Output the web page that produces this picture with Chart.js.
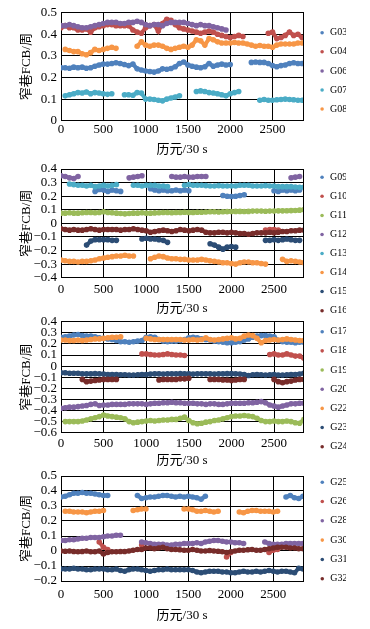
<!DOCTYPE html>
<html><head><meta charset="utf-8">
<script src="https://cdn.jsdelivr.net/npm/chart.js@4.4.1/dist/chart.umd.min.js"></script>
<style>
html,body{margin:0;padding:0;background:#fff;width:370px;height:629px;overflow:hidden;position:relative}
canvas{position:absolute;left:0}
</style></head><body>
<canvas id="c1"></canvas><canvas id="c2"></canvas><canvas id="c3"></canvas><canvas id="c4"></canvas>
<script>
const _ = null;
const epochs = [0,50,100,150,200,250,300,350,400,450,500,550,600,650,700,750,800,850,900,950,1000,1050,1100,1150,1200,1250,1300,1350,1400,1450,1500,1550,1600,1650,1700,1750,1800,1850,1900,1950,2000,2050,2100,2150,2200,2250,2300,2350,2400,2450,2500,2550,2600,2650,2700,2750,2800,2850];
const xTicks = [0,500,1000,1500,2000,2500];
const yTicks1 = [0,0.1,0.2,0.3,0.4,0.5];
const yTicks2 = [-0.4,-0.3,-0.2,-0.1,0,0.1,0.2,0.3,0.4];
const yTicks3 = [-0.6,-0.5,-0.4,-0.3,-0.2,-0.1,0,0.1,0.2,0.3,0.4];
const yTicks4 = [-0.2,-0.1,0,0.1,0.2,0.3,0.4,0.5];
const xTitle = '历元/30 s';
const yTitle = '窄巷FCB/周';

// Panel 1
const names1 = ['G03','G04','G06','G07','G08'];
const G03 = [0.245,0.245,0.243,0.248,0.245,0.248,0.243,0.245,0.252,0.258,
 0.262,0.262,0.265,0.268,0.265,0.26,0.255,0.262,0.24,0.235,
 0.23,0.228,0.225,0.23,0.24,0.238,0.242,0.25,0.265,0.272,
 0.258,0.252,0.248,0.245,0.25,0.265,0.252,0.258,0.262,0.258,
 0.26,_,_,_,_,0.27,0.272,0.27,0.27,0.265,
 0.255,0.25,0.255,0.258,0.265,0.268,0.265,0.265];
const G04 = [0.43,0.44,0.43,0.43,0.42,0.42,0.425,0.41,0.43,0.435,
 0.44,0.445,0.445,0.44,0.44,0.44,0.44,0.42,0.41,0.405,
 0.43,0.44,0.445,0.415,0.45,0.47,0.465,0.445,0.43,0.425,
 0.42,0.415,0.41,0.405,0.41,0.415,0.41,0.40,0.395,0.39,
 0.385,0.39,0.395,0.39,_,_,_,_,_,0.405,
 0.41,0.38,0.385,0.395,0.41,0.395,0.40,0.385];
const G06 = [0.44,0.44,0.445,0.44,0.435,0.43,0.43,0.435,0.44,0.445,
 0.45,0.455,0.455,0.455,0.45,0.45,0.455,0.455,0.46,0.455,
 0.445,0.44,0.445,0.445,0.44,0.45,0.455,0.455,0.455,0.455,
 0.45,0.445,0.44,0.445,0.44,0.44,0.435,0.43,0.425,0.42,
 _,_,_,_,_,_,_,_,_,_,
 _,_,_,_,_,_,_,_];
const G07 = [_,0.115,0.12,0.125,0.13,0.128,0.133,0.125,0.13,0.128,
 0.125,0.122,0.125,_,_,0.12,0.12,0.118,0.13,0.128,
 0.10,0.10,0.098,0.095,0.092,0.10,0.105,0.11,0.115,_,
 _,_,0.135,0.138,0.135,0.13,0.128,0.125,0.12,0.115,
 0.125,0.13,0.135,_,_,_,_,0.095,0.098,0.095,
 0.095,0.097,0.098,0.1,0.098,0.097,0.095,0.095];
const G08 = [_,0.33,0.325,0.32,0.32,0.31,0.305,0.315,0.33,0.325,
 0.33,0.335,0.34,0.335,_,_,_,_,0.345,0.365,
 0.35,0.345,0.35,0.35,0.345,0.335,0.33,0.335,0.34,0.345,
 0.34,0.35,0.375,0.37,0.35,0.38,0.375,0.365,0.36,0.36,
 0.36,0.362,0.36,0.36,0.355,0.35,0.345,0.348,0.345,0.345,
 0.34,0.35,0.355,0.355,0.355,0.355,0.36,0.36];

// Panel 2
const names2 = ['G09','G10','G11','G12','G13','G14','G15','G16'];
const G09 = [_,_,_,_,_,_,_,_,0.235,0.25,
 0.245,0.235,0.245,0.24,0.235,_,_,_,_,_,
 _,0.255,0.245,0.24,0.245,0.24,0.24,0.245,0.24,0.245,
 0.24,_,_,_,_,_,_,_,0.205,0.2,
 0.198,0.2,0.205,0.21,_,_,_,_,_,_,
 0.24,0.235,0.245,0.24,0.245,0.24,0.245,_];
const G10 = [_,_,_,_,_,_,_,_,_,_,
 _,_,_,_,_,_,_,_,_,_,
 _,_,_,_,_,_,_,_,_,_,
 _,_,_,_,_,_,_,_,_,_,
 _,_,_,_,_,_,_,_,-0.05,-0.045,
 -0.045,-0.05,_,_,_,_,_,_];
const G11 = [0.075,0.075,0.078,0.075,0.075,0.078,0.08,0.08,0.078,0.08,
 0.085,0.08,0.078,0.075,0.072,0.07,0.072,0.075,0.075,0.078,
 0.075,0.075,0.077,0.078,0.08,0.08,0.078,0.08,0.08,0.082,
 0.08,0.08,0.082,0.082,0.083,0.085,0.085,0.084,0.085,0.086,
 0.087,0.088,0.088,0.087,0.088,0.09,0.09,0.09,0.089,0.09,
 0.09,0.092,0.092,0.093,0.094,0.095,0.097,0.1];
const G12 = [0.35,0.345,0.335,0.33,0.345,_,_,_,_,_,
 _,_,_,_,_,_,0.335,0.34,0.345,0.35,
 _,_,_,_,_,_,0.345,0.34,0.34,0.345,
 0.34,0.34,0.345,0.345,0.345,_,_,_,_,_,
 _,_,_,_,_,_,_,_,_,_,
 _,_,_,_,0.335,0.34,0.345,_];
const G13 = [_,_,0.29,0.285,0.28,0.28,0.275,0.28,0.27,0.275,
 0.28,0.275,0.28,0.285,_,_,_,0.28,0.28,0.275,
 0.28,0.28,0.28,0.275,0.275,0.27,_,_,_,0.28,
 0.285,0.28,0.28,0.28,0.278,0.275,0.275,0.278,0.275,0.275,
 0.275,0.275,0.28,0.28,0.28,0.275,0.275,0.275,0.278,0.275,
 0.275,0.27,0.27,0.27,0.27,0.268,0.265,0.265];
const G14 = [-0.27,-0.275,-0.28,-0.28,-0.285,-0.28,-0.28,-0.275,-0.27,-0.26,
 -0.255,-0.25,-0.245,-0.24,-0.24,-0.235,-0.24,-0.24,_,_,
 _,-0.26,-0.25,-0.24,-0.245,-0.255,-0.26,-0.26,-0.265,-0.265,
 -0.27,-0.27,-0.27,-0.265,-0.27,-0.275,-0.28,-0.285,-0.29,-0.29,
 -0.295,-0.3,-0.29,-0.285,-0.285,-0.29,-0.29,-0.295,-0.3,_,
 _,_,-0.265,-0.28,-0.275,-0.28,-0.285,-0.29];
const G15 = [_,_,_,_,_,_,-0.16,-0.13,-0.12,-0.12,
 -0.12,-0.12,-0.125,-0.125,_,_,_,_,_,-0.115,
 -0.11,-0.115,-0.115,-0.12,-0.125,-0.14,_,_,_,_,
 _,_,_,_,_,-0.15,-0.16,-0.175,-0.19,-0.175,
 -0.17,-0.175,_,_,_,_,_,_,-0.125,-0.125,
 -0.12,-0.125,-0.12,-0.115,-0.12,-0.125,-0.125,_];
const G16 = [-0.04,-0.045,-0.05,-0.045,-0.05,-0.05,-0.045,-0.04,-0.045,-0.05,
 -0.045,-0.045,-0.045,-0.045,-0.05,-0.045,-0.045,-0.04,-0.045,-0.05,
 -0.055,-0.065,-0.06,-0.055,-0.05,-0.055,-0.06,-0.055,-0.045,-0.05,
 -0.055,-0.05,-0.045,-0.05,-0.065,-0.07,-0.07,-0.065,-0.065,-0.07,
 -0.065,-0.07,-0.075,-0.075,-0.08,-0.075,-0.07,-0.07,-0.07,-0.065,
 -0.07,-0.065,-0.06,-0.06,-0.055,-0.055,-0.05,-0.05];

// Panel 3
const names3 = ['G17','G18','G19','G20','G22','G23','G24'];
const G17 = [0.26,0.265,0.27,0.28,0.285,0.275,0.27,0.27,0.265,0.255,
 0.25,0.245,0.24,0.23,0.22,0.22,0.215,0.22,0.225,0.23,
 0.26,0.265,0.26,0.24,0.225,0.22,0.225,0.225,0.23,0.24,
 0.255,0.26,0.255,0.245,0.24,0.235,0.225,0.22,0.215,0.21,
 0.21,0.215,0.22,0.235,0.245,0.26,0.27,0.275,0.275,0.27,
 0.265,0.23,0.22,0.215,0.215,0.21,0.215,0.215];
const G18 = [_,_,_,_,_,_,_,_,_,_,
 _,_,_,_,_,_,_,_,_,0.11,
 0.11,0.105,0.1,0.1,0.105,0.11,0.105,0.1,0.1,0.095,
 _,_,_,_,_,_,_,_,_,_,
 _,_,_,_,_,_,_,_,_,0.105,
 0.11,0.1,0.1,0.11,0.1,0.09,0.09,0.07];
const G19 = [_,-0.5,-0.5,-0.5,-0.5,-0.495,-0.485,-0.475,-0.465,-0.455,
 -0.44,-0.45,-0.455,-0.46,-0.465,-0.475,-0.5,-0.51,-0.505,-0.5,
 -0.495,-0.49,-0.495,-0.49,-0.485,-0.485,-0.48,-0.48,-0.47,-0.46,
 -0.49,-0.51,-0.52,-0.515,-0.505,-0.5,-0.49,-0.485,-0.475,-0.465,
 -0.455,-0.45,-0.45,-0.445,-0.45,-0.455,-0.47,-0.49,-0.5,-0.5,
 -0.495,-0.5,-0.5,-0.495,-0.5,-0.51,-0.515,-0.48];
const G20 = [-0.38,-0.375,-0.37,-0.37,-0.365,-0.36,-0.355,-0.345,-0.34,-0.355,
 -0.35,-0.35,-0.345,-0.345,-0.345,-0.345,-0.34,-0.34,-0.34,-0.34,
 -0.345,-0.34,-0.335,-0.335,-0.33,-0.33,-0.325,-0.33,-0.33,-0.335,
 -0.335,-0.335,-0.34,-0.34,-0.345,-0.34,-0.34,-0.345,-0.345,-0.34,
 -0.335,-0.335,-0.335,-0.335,-0.33,-0.33,-0.325,-0.32,-0.33,-0.35,
 -0.36,-0.37,-0.36,-0.35,-0.34,-0.34,-0.335,-0.335];
const G22 = [0.235,0.235,0.23,0.23,0.235,0.23,0.235,0.24,0.245,0.245,
 0.25,0.255,0.26,0.26,0.265,_,_,_,_,_,
 0.25,0.245,0.24,0.24,0.24,0.24,0.24,0.24,0.24,0.235,
 0.235,0.24,0.235,0.24,0.255,0.24,0.235,0.24,0.245,0.25,
 0.255,0.245,0.25,0.27,0.28,0.275,0.25,0.21,0.23,0.235,
 0.24,0.235,0.24,0.245,0.24,0.235,0.23,0.23];
const G23 = [-0.06,-0.06,-0.065,-0.065,-0.065,-0.07,-0.07,-0.07,-0.068,-0.07,
 -0.072,-0.075,-0.075,-0.075,-0.078,-0.078,-0.08,-0.08,-0.078,-0.075,
 -0.075,-0.072,-0.07,-0.07,-0.072,-0.07,-0.07,-0.07,-0.068,-0.07,
 -0.07,-0.072,-0.07,-0.07,-0.07,-0.07,-0.072,-0.07,-0.07,-0.068,
 -0.068,-0.07,-0.072,-0.075,-0.085,-0.078,-0.075,-0.078,-0.08,-0.078,
 -0.075,-0.08,-0.08,-0.078,-0.075,-0.075,-0.072,-0.065];
const G24 = [_,_,_,_,_,-0.12,-0.14,-0.135,-0.13,-0.125,
 -0.12,-0.12,-0.12,-0.12,_,_,_,_,_,_,
 _,_,_,-0.125,-0.12,-0.12,-0.12,-0.12,-0.115,-0.115,
 -0.11,_,_,_,_,-0.12,-0.12,-0.12,-0.125,-0.125,
 -0.13,-0.125,-0.12,-0.12,_,_,_,_,_,_,
 -0.12,-0.14,-0.15,-0.14,-0.135,-0.125,-0.12,-0.12];

// Panel 4
const names4 = ['G25','G26','G28','G30','G31','G32'];
const G25 = [0.36,0.365,0.375,0.385,0.385,0.39,0.385,0.385,0.38,0.375,
 0.37,0.37,_,_,_,_,_,_,0.37,0.35,
 0.355,0.36,0.36,0.365,0.37,0.37,0.365,0.36,0.365,0.36,
 0.365,0.36,0.355,0.345,0.365,_,_,_,_,_,
 _,_,_,_,_,_,_,_,_,_,
 _,_,_,0.36,0.37,0.355,0.35,0.365];
const G26 = [_,_,_,_,_,_,_,_,_,0.06,
 0.025,0.01,_,_,_,_,_,_,_,0.04,
 _,_,_,_,_,_,_,_,_,_,
 _,_,_,_,_,_,_,_,_,-0.04,
 -0.01,_,_,_,_,_,_,_,_,-0.01,
 0.005,0.01,_,_,_,_,_,_];
const G28 = [0.07,0.07,0.075,0.075,0.08,0.085,0.085,0.09,0.09,0.09,
 0.095,0.1,0.1,0.105,0.105,_,_,_,_,0.06,
 0.055,0.05,0.045,0.045,0.045,0.04,0.04,0.045,0.045,0.05,
 0.05,0.05,0.055,0.05,0.06,0.065,0.07,0.07,0.065,0.06,
 0.06,0.055,0.055,0.05,_,_,_,_,0.06,0.05,
 0.045,0.045,0.045,0.05,0.05,0.05,0.05,0.05];
const G30 = [_,0.265,0.265,0.26,0.26,0.26,0.255,0.26,0.265,0.265,
 0.27,_,_,_,_,_,_,0.27,0.275,0.28,
 0.28,_,_,_,_,_,_,_,_,0.28,
 0.28,0.275,0.265,0.265,0.27,0.265,0.26,0.265,_,_,
 _,_,0.26,0.255,0.265,0.27,0.27,0.265,0.265,0.265,
 0.26,0.265,_,_,_,_,_,_];
const G31 = [-0.12,-0.12,-0.12,-0.115,-0.12,-0.12,-0.125,-0.125,-0.12,-0.12,
 -0.12,-0.125,-0.125,-0.12,-0.13,-0.135,-0.125,-0.12,-0.12,-0.125,
 -0.13,-0.135,-0.13,-0.125,-0.125,-0.12,-0.125,-0.125,-0.125,-0.125,
 -0.125,-0.13,-0.14,-0.145,-0.14,-0.135,-0.135,-0.135,-0.14,-0.14,
 -0.145,-0.145,-0.14,-0.135,-0.14,-0.14,-0.135,-0.14,-0.135,-0.13,
 -0.135,-0.14,-0.135,-0.135,-0.14,-0.145,-0.115,-0.12];
const G32 = [0,-0.002,0,-0.003,-0.005,-0.003,0,-0.005,-0.005,0,
 -0.02,-0.01,-0.005,-0.005,-0.003,-0.003,0,0.005,0.01,0.01,
 0.02,0.02,0.015,0.02,0.025,0.015,0.01,0.01,0.008,0.005,
 0.005,0.01,0.005,0,0,0.003,0,-0.002,-0.005,-0.01,
 -0.005,0,0.005,0.005,0.008,0.01,0.005,0.005,0.01,0.015,
 0.02,0.025,0.025,0.025,0.02,0.02,0.015,0.015];

const C = {blue:'#4F81BD', red:'#C0504D', green:'#9BBB59', purple:'#8064A2', aqua:'#4BACC6', orange:'#F79646', navy:'#2C4D75', maroon:'#772C2A'};

Chart.defaults.color = '#000';
const SERIF = "'Liberation Serif', 'Times New Roman', serif";
const MIXED = "'Liberation Serif', 'Noto Sans CJK SC', serif";

function fmtY(v){ if (Math.abs(v) < 1e-9) return '0'; return (v < 0 ? '\u2212' : '') + Math.abs(v).toFixed(1); }

function makePanel(id, g, names, series, colors, yTicks){
  const cv = document.getElementById(id);
  cv.width = 370; cv.height = g.H;
  cv.style.top = g.T + 'px';
  cv.style.width = '370px'; cv.style.height = g.H + 'px';
  const datasets = series.map((vals, i) => ({
    label: names[i],
    data: vals.map((v, j) => ({x: epochs[j], y: v})),
    borderColor: colors[i], backgroundColor: colors[i],
    pointBackgroundColor: colors[i], pointBorderColor: colors[i],
    pointBorderWidth: 0, pointRadius: 2.8, pointStyle: 'circle',
    borderWidth: 4, tension: 0, spanGaps: false, order: -i
  }));
  return new Chart(cv, {
    type: 'line',
    data: {datasets},
    options: {
      responsive: false, animation: false, events: [], devicePixelRatio: 1,
      layout: {padding: {left: 0, top: 0, right: 24, bottom: 0}},
      plugins: {
        tooltip: {enabled: false},
        legend: {
          position: 'right', align: 'start', maxWidth: 36,
          title: {display: g.legTitle !== null, text: '', font: {size: 1, lineHeight: 1}, padding: {top: g.legTitle || 0, bottom: 0}},
          labels: {usePointStyle: true, pointStyle: 'circle', boxWidth: 6, boxHeight: 2.5, padding: g.legPad,
            color: '#000', font: {family: SERIF, size: 10},
            sort: (a, b) => a.datasetIndex - b.datasetIndex}
        }
      },
      scales: {
        x: {
          type: 'linear', position: 'bottom', min: 0, max: g.xMax,
          afterBuildTicks: s => { s.ticks = xTicks.map(v => ({value: v})); },
          afterFit: s => { s.height = g.xh; s.paddingLeft = 0; s.paddingRight = 0; },
          grid: {color: '#000', lineWidth: 1, drawTicks: false},
          border: {color: '#000', width: 1},
          ticks: {padding: g.tickPad, color: '#000', font: {family: SERIF, size: 13}, maxRotation: 0, autoSkip: false, callback: v => String(v)},
          title: {display: true, text: xTitle, color: '#000', font: {family: MIXED, size: 13}, padding: {top: 0, bottom: g.titlePB}}
        },
        y: {
          type: 'linear', position: 'left', min: yTicks[0], max: yTicks[yTicks.length - 1],
          afterBuildTicks: s => { s.ticks = yTicks.map(v => ({value: v})); },
          afterFit: s => { s.width = 61; s.paddingTop = g.padTop; s.paddingBottom = 0; },
          grid: {color: '#000', lineWidth: 1, drawTicks: false},
          border: {color: '#000', width: 1},
          ticks: {padding: 4, color: '#000', font: {family: SERIF, size: 13}, autoSkip: false, callback: v => fmtY(v)},
          title: {display: true, text: yTitle, color: '#000', font: {family: MIXED, size: 13}, padding: {top: 19.2, bottom: 0}}
        },
        yR: {
          type: 'linear', axis: 'y', position: 'right', display: true,
          grid: {display: false}, ticks: {display: false},
          border: {display: true, color: '#000', width: 1},
          afterFit: s => { s.width = 7; s.paddingTop = 0; s.paddingBottom = 0; }
        }
      }
    }
  });
}

makePanel('c1', {T: 4, H: 154, padTop: 8.7, xh: 37.3, tickPad: 1.5, titlePB: 0.2, legTitle: 13.6, legPad: 9.1, xMax: 2860},
  names1, [G03, G04, G06, G07, G08], [C.blue, C.red, C.purple, C.aqua, C.orange], yTicks1);
makePanel('c2', {T: 161, H: 170, padTop: 8, xh: 53.3, tickPad: 4, titlePB: 14.2, legTitle: 1.25, legPad: 9.05, xMax: 2840},
  names2, [G09, G10, G11, G12, G13, G14, G15, G16], [C.blue, C.red, C.green, C.purple, C.aqua, C.orange, C.navy, C.maroon], yTicks2);
makePanel('c3', {T: 314, H: 156, padTop: 7.7, xh: 37.3, tickPad: 3.2, titlePB: 1.5, legTitle: 2.53, legPad: 9.17, xMax: 2840},
  names3, [G17, G18, G19, G20, G22, G23, G24], [C.blue, C.red, C.green, C.purple, C.orange, C.navy, C.maroon], yTicks3);
makePanel('c4', {T: 468, H: 156, padTop: 8, xh: 43, tickPad: 6.2, titlePB: 0.5, legTitle: null, legPad: 9.28, xMax: 2850},
  names4, [G25, G26, G28, G30, G31, G32], [C.blue, C.red, C.purple, C.orange, C.navy, C.maroon], yTicks4);
</script>
</body></html>
